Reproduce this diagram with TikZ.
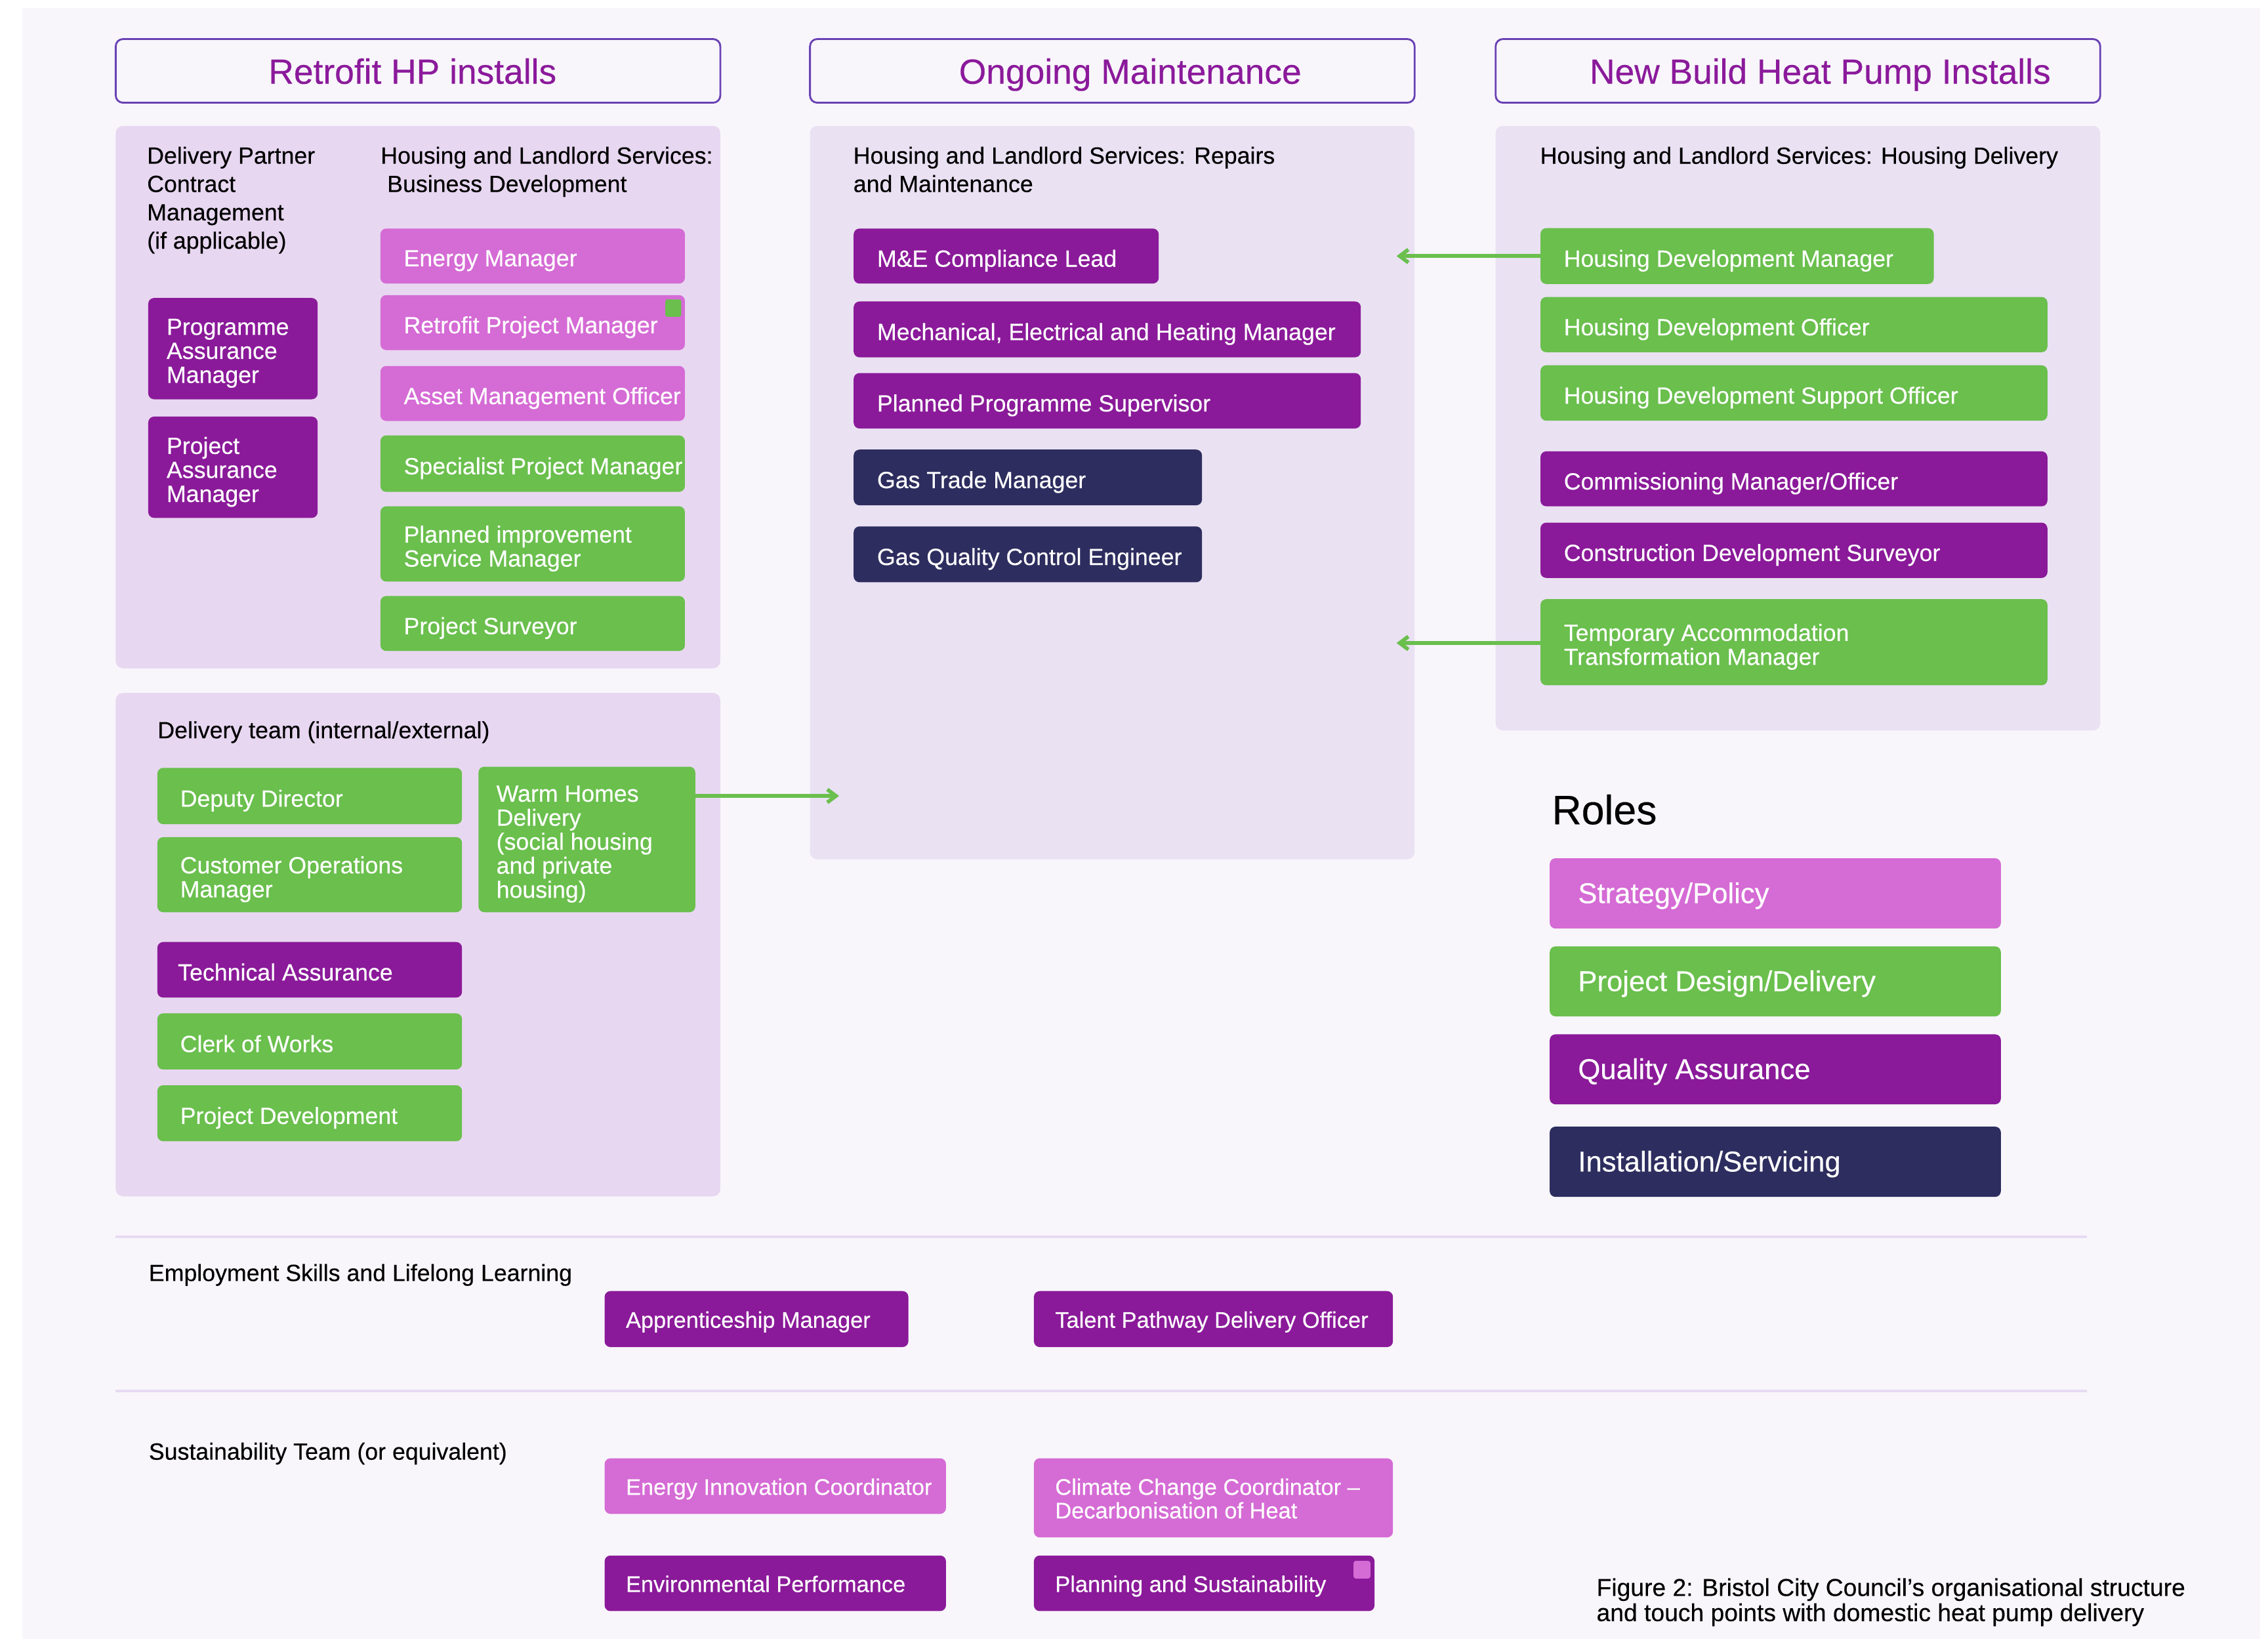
\documentclass[tikz,border=0pt]{standalone}
\usepackage{fontspec}
\setmainfont{Liberation Sans}[UprightFeatures={FakeBold=0.3}]
\usetikzlibrary{arrows.meta}
\definecolor{bgc}{HTML}{F8F6FB}
\definecolor{panelA}{HTML}{E8D7F1}
\definecolor{panelB}{HTML}{EAE1F3}
\definecolor{cpink}{HTML}{D56BD5}
\definecolor{cgreen}{HTML}{6ABF4D}
\definecolor{cpurple}{HTML}{8A1A99}
\definecolor{cnavy}{HTML}{2D2D5F}
\definecolor{hdrline}{HTML}{6A42B4}
\definecolor{hdrtext}{HTML}{8B1A9B}
\definecolor{sepc}{HTML}{E7DAF2}
\tikzset{
 rb/.style={rounded corners=4pt, inner sep=0pt, outer sep=0pt, draw=none},
 btxt/.style={anchor=west, inner sep=0pt, text=white, align=left, font=\fontsize{16.2}{16.6}\selectfont},
 rtxt/.style={anchor=west, inner sep=0pt, text=white, align=left, font=\fontsize{19.8}{21}\selectfont},
 ltxt/.style={anchor=west, inner sep=0pt, text=white, align=left, font=\fontsize{15.6}{16.3}\selectfont},
 panel/.style={rounded corners=5pt, inner sep=0pt, outer sep=0pt},
 hdrbox/.style={draw=hdrline, line width=1.3pt, rounded corners=5pt, fill=bgc, inner sep=0pt, outer sep=0pt},
 hdrtxt/.style={anchor=base, inner sep=0pt, text=hdrtext, font=\fontsize{24.2}{26}\selectfont},
 ttl/.style={anchor=north west, inner sep=0pt, align=left, text=black, font=\fontsize{16.2}{19.6}\selectfont},
 arr/.style={draw=cgreen, line width=2.6pt, -{Straight Barb[length=6pt,width=9pt]}},
 sepl/.style={draw=sepc, line width=1.6pt},
}
\newcommand\boxat[6]{\node[#6, anchor=north west, minimum width={(#4-#2)*1pt}, minimum height={(#5-#3)*1pt}] (#1) at (#2,#3) {};}
\newcommand\rolebox[8][16]{\boxat{#2}{#3}{#4}{#5}{#6}{rb, fill=#7}%
  \node[btxt] (#2-t) at ([xshift=#1pt, yshift=-3.2pt]#2.west) {#8};}
\newcommand\lowbox[7]{\boxat{#1}{#2}{#3}{#4}{#5}{rb, fill=#6}%
  \node[ltxt] (#1-t) at ([xshift=14.5pt, yshift=-2pt]#1.west) {#7};}
\newcommand\legbox[7]{\boxat{#1}{#2}{#3}{#4}{#5}{rb, fill=#6}%
  \node[rtxt] (#1-t) at ([xshift=19.4pt, yshift=-1.6pt]#1.west) {#7};}
\begin{document}
\begin{tikzpicture}[x=1pt,y=-1pt]
\useasboundingbox (0,0) rectangle (1568,1133);
\fill[white] (0,0) rectangle (1568,1133);
\fill[bgc] (15.4,5.6) rectangle (1562.6,1133);

% headers
\boxat{hd1}{80}{27}{498}{71}{hdrbox}
\boxat{hd2}{560}{27}{978}{71}{hdrbox}
\boxat{hd3}{1034}{27}{1452}{71}{hdrbox}
\node[hdrtxt] (hd1-t) at (285.2,57.9) {Retrofit HP installs};
\node[hdrtxt] (hd2-t) at (781.4,57.9) {Ongoing Maintenance};
\node[hdrtxt] (hd3-t) at (1258.4,57.9) {New Build Heat Pump Installs};

% panels
\boxat{pA}{80}{87}{498}{462}{panel, fill=panelA}
\boxat{pB}{80}{479}{498}{827}{panel, fill=panelA}
\boxat{pC}{560}{87}{978}{594}{panel, fill=panelB}
\boxat{pD}{1034}{87}{1452}{505}{panel, fill=panelB}

% titles
\node[ttl] (t1) at (101.5,101.2) {Delivery Partner\\Contract\\Management\\(if applicable)};
\node[ttl] (t2) at (263,101.2) {Housing and Landlord Services:\\\hspace*{4.5pt}Business Development};
\node[ttl] (t3) at (589.8,101.2) {Housing and Landlord Services: Repairs\\and Maintenance};
\node[ttl] (t4) at (1064.6,101.3) {Housing and Landlord Services: Housing Delivery};
\node[ttl] (t5) at (108.8,498.4) {Delivery team (internal/external)};
\node[ttl, font=\fontsize{28.4}{30}\selectfont] (t6) at (1072.7,549) {Roles};
\node[ttl] (t7) at (102.7,873.6) {Employment Skills and Lifelong Learning};
\node[ttl] (t8) at (102.7,997.1) {Sustainability Team (or equivalent)};
\node[ttl, font=\fontsize{16.9}{17.4}\selectfont] (t9) at (1103.6,1090.8) {Figure 2: Bristol City Council’s organisational structure\\and touch points with domestic heat pump delivery};

% retrofit top panel
\rolebox{em}{263}{158}{473.5}{196}{cpink}{Energy Manager}
\rolebox{rpm}{263}{204}{473.5}{242}{cpink}{Retrofit Project Manager}
\boxat{rpmsq}{460}{207}{471}{219}{rb, rounded corners=1.5pt, fill=cgreen}
\rolebox{amo}{263}{253}{473.5}{291}{cpink}{Asset Management Officer}
\rolebox{spm}{263}{301}{473.5}{340}{cgreen}{Specialist Project Manager}
\rolebox{pism}{263}{350}{473.5}{402}{cgreen}{Planned improvement\\Service Manager}
\rolebox{psv}{263}{412}{473.5}{450}{cgreen}{Project Surveyor}
\rolebox[12.5]{pam}{102.5}{206}{219.6}{276}{cpurple}{Programme\\Assurance\\Manager}
\rolebox[12.5]{pjam}{102.5}{288}{219.6}{358}{cpurple}{Project\\Assurance\\Manager}

% delivery team panel
\rolebox[15.6]{dd}{108.8}{530.8}{319.4}{569.7}{cgreen}{Deputy Director}
\rolebox[15.6]{com}{108.8}{578.7}{319.4}{630.6}{cgreen}{Customer Operations\\Manager}
\rolebox[12.2]{wh}{330.8}{530}{480.7}{630.6}{cgreen}{Warm Homes\\Delivery\\(social housing\\and private\\housing)}
\rolebox[14]{ta}{108.8}{651.2}{319.4}{689.6}{cpurple}{Technical Assurance\vphantom{g}}
\rolebox[15.6]{cw}{108.8}{700.5}{319.4}{739.3}{cgreen}{Clerk of Works\vphantom{g}}
\rolebox[15.6]{pd}{108.8}{750.2}{319.4}{788.9}{cgreen}{Project Development}

% maintenance panel
\rolebox{me}{590.2}{158}{801.1}{196}{cpurple}{M\&E Compliance Lead}
\rolebox{meh}{590.2}{208.4}{940.8}{247}{cpurple}{Mechanical, Electrical and Heating Manager}
\rolebox{pps}{590.2}{257.9}{940.8}{296.2}{cpurple}{Planned Programme Supervisor}
\rolebox{gtm}{590.2}{310.8}{831}{349.3}{cnavy}{Gas Trade Manager}
\rolebox{gqce}{590.2}{363.9}{831}{402.5}{cnavy}{Gas Quality Control Engineer}

% new build panel
\rolebox{hdm}{1065}{157.7}{1336.9}{196.3}{cgreen}{Housing Development Manager}
\rolebox{hdo}{1065}{205.3}{1415.5}{243.5}{cgreen}{Housing Development Officer}
\rolebox{hdso}{1065}{252.5}{1415.5}{290.8}{cgreen}{Housing Development Support Officer}
\rolebox{cmo}{1065}{312}{1415.5}{350}{cpurple}{Commissioning Manager/Officer}
\rolebox{cds}{1065}{361.3}{1415.5}{399.5}{cpurple}{Construction Development Surveyor}
\rolebox{tatm}{1065}{414.2}{1415.5}{473.7}{cgreen}{Temporary Accommodation\\Transformation Manager}

% roles legend
\legbox{r1}{1071.4}{593.3}{1383.3}{641.9}{cpink}{Strategy/Policy}
\legbox{r2}{1071.4}{654.2}{1383.3}{702.6}{cgreen}{Project Design/Delivery}
\legbox{r3}{1071.4}{715}{1383.3}{763.4}{cpurple}{Quality Assurance}
\legbox{r4}{1071.4}{778.8}{1383.3}{827.4}{cnavy}{Installation/Servicing}

% separators
\draw[sepl] (80,855) -- (1443,855);
\draw[sepl] (80,961.5) -- (1443,961.5);

% lower rows
\lowbox{am}{418}{892.5}{628}{931.2}{cpurple}{Apprenticeship Manager}
\lowbox{tpdo}{714.8}{892.5}{963}{931.2}{cpurple}{Talent Pathway Delivery Officer}
\lowbox{eic}{418}{1008.1}{654}{1046.5}{cpink}{Energy Innovation Coordinator}
\lowbox{ccc}{714.8}{1008.1}{963}{1062.8}{cpink}{Climate Change Coordinator –\\Decarbonisation of Heat\vphantom{g}}
\lowbox{ep}{418}{1075.3}{654}{1113.7}{cpurple}{Environmental Performance\vphantom{g}}
\lowbox{pas}{714.8}{1075.3}{950.3}{1113.7}{cpurple}{Planning and Sustainability}
\boxat{passq}{935.8}{1079}{947.4}{1091.2}{rb, rounded corners=1.5pt, fill=cpink}

% arrows
\coordinate (a1) at (965.5,177);
\coordinate (a2) at (965.5,444.5);
\coordinate (a3) at (580.1,550.2);
\draw[arr] (hdm.west) -- (a1);
\draw[arr] (a2 -| tatm.west) -- (a2);
\draw[arr] (a3 -| wh.east) -- (a3);
\end{tikzpicture}
\end{document}
